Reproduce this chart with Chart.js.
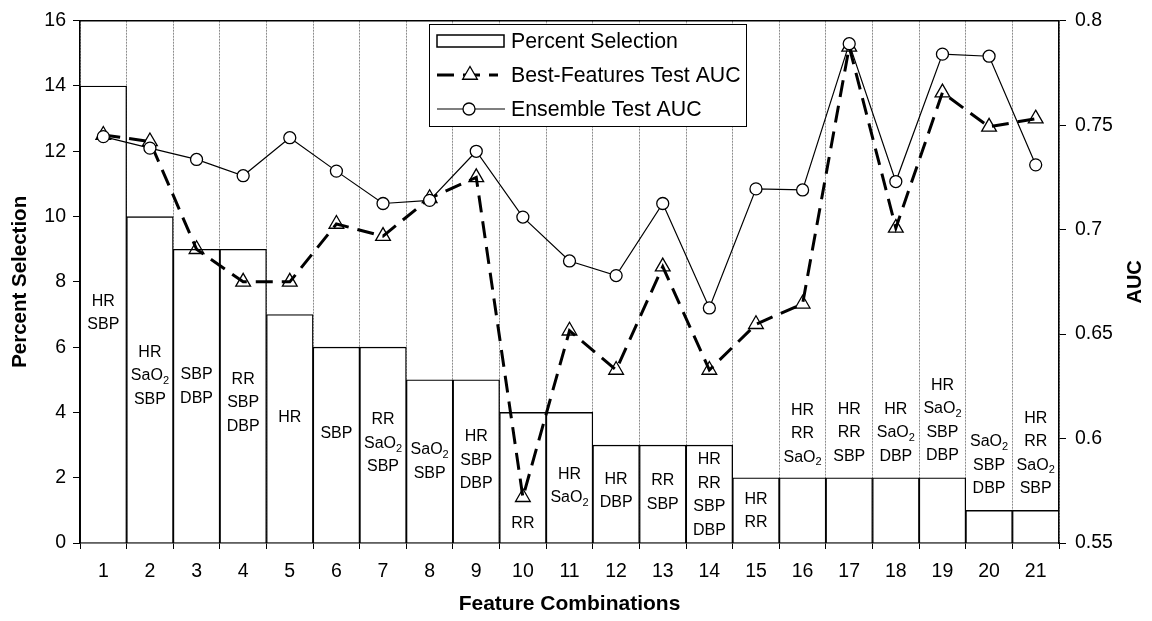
<!DOCTYPE html>
<html>
<head>
<meta charset="utf-8">
<script src="https://cdn.jsdelivr.net/npm/chart.js@4/dist/chart.umd.min.js"></script>
<style>
  html, body { margin: 0; padding: 0; background: #fff; }
  #wrap { width: 1152px; height: 621px; }
</style>
</head>
<body>
<div id="wrap"><canvas id="chart" width="1152" height="621"></canvas></div>
<script>
// 데이터
const categories = ['1', '2', '3', '4', '5', '6', '7', '8', '9', '10', '11', '12', '13', '14', '15', '16', '17', '18', '19', '20', '21'];
const percentSelection = [14, 10, 9, 9, 7, 6, 6, 5, 5, 4, 4, 3, 3, 3, 2, 2, 2, 2, 2, 1, 1];
const bestFeaturesAuc = [0.7453, 0.7422, 0.6906, 0.675, 0.675, 0.7027, 0.6969, 0.715, 0.725, 0.5719, 0.6516,
  0.6328, 0.6823, 0.6328, 0.6547, 0.6645, 0.7875, 0.7008, 0.7656, 0.7492, 0.7531];
const ensembleAuc = [0.7445, 0.739, 0.7336, 0.7258, 0.744, 0.728, 0.7125, 0.714, 0.7375, 0.706, 0.685,
  0.678, 0.7125, 0.6625, 0.7195, 0.719, 0.789, 0.723, 0.784, 0.783, 0.731];
const featureSets = [
  ['HR', 'SBP'], ['HR', 'SaO₂', 'SBP'], ['SBP', 'DBP'], ['RR', 'SBP', 'DBP'], ['HR'], ['SBP'],
  ['RR', 'SaO₂', 'SBP'], ['SaO₂', 'SBP'], ['HR', 'SBP', 'DBP'], ['RR'], ['HR', 'SaO₂'], ['HR', 'DBP'],
  ['RR', 'SBP'], ['HR', 'RR', 'SBP', 'DBP'], ['HR', 'RR'], ['HR', 'RR', 'SaO₂'], ['HR', 'RR', 'SBP'],
  ['HR', 'SaO₂', 'DBP'], ['HR', 'SaO₂', 'SBP', 'DBP'], ['SaO₂', 'SBP', 'DBP'], ['HR', 'RR', 'SaO₂', 'SBP']
];
// 라벨 중심 높이 (Percent Selection 눈금 기준)
const labelLevel = [7.04, 5.12, 4.79, 4.3, 3.84, 3.35, 3.05, 2.5, 2.53, 0.58, 1.74, 1.59, 1.55, 1.46, 0.98,
  3.35, 3.38, 3.38, 3.75, 2.38, 2.74];

const FONT = '"Liberation Sans", Arial, sans-serif';

// 아래첨자 ₂ 를 작은 글씨로 그리기
const drawSubText = (ctx, text, x, y, size) => {
  const parts = text.split('₂');
  ctx.font = `${size}px ${FONT}`;
  const mainW = ctx.measureText(parts[0]).width;
  let subW = 0;
  if (parts.length > 1) {
    ctx.font = `${Math.round(size * 0.68)}px ${FONT}`;
    subW = ctx.measureText('2').width;
  }
  const start = x - (mainW + subW) / 2;
  ctx.textAlign = 'left';
  ctx.textBaseline = 'middle';
  ctx.font = `${size}px ${FONT}`;
  ctx.fillText(parts[0], start, y);
  if (parts.length > 1) {
    ctx.font = `${Math.round(size * 0.68)}px ${FONT}`;
    ctx.fillText('2', start + mainW, y + size * 0.32);
  }
};

const barLabels = {
  id: 'barLabels',
  afterDatasetsDraw(chart) {
    const { ctx, scales } = chart;
    const meta = chart.getDatasetMeta(0);
    ctx.save();
    ctx.fillStyle = '#000';
    meta.data.forEach((bar, i) => {
      const lines = featureSets[i];
      const lh = 23.5;
      const yc = scales.y.getPixelForValue(labelLevel[i]);
      const y0 = yc - (lines.length - 1) * lh / 2;
      lines.forEach((t, j) => drawSubText(ctx, t, bar.x, y0 + j * lh, 16));
    });
    ctx.restore();
  }
};

const frameAndLegend = {
  id: 'frameAndLegend',
  afterDraw(chart) {
    const { ctx, chartArea: a } = chart;
    const ds = chart.data.datasets;
    ctx.save();
    // 상단 테두리
    ctx.strokeStyle = '#000';
    ctx.lineWidth = 1.5;
    ctx.beginPath();
    ctx.moveTo(a.left, a.top);
    ctx.lineTo(a.right, a.top);
    ctx.stroke();

    // 오른쪽 축 제목 (아래에서 위로)
    ctx.save();
    ctx.translate(1135, (a.top + a.bottom) / 2);
    ctx.rotate(-Math.PI / 2);
    ctx.font = `bold 20px ${FONT}`;
    ctx.textAlign = 'center';
    ctx.textBaseline = 'middle';
    ctx.fillStyle = '#000';
    ctx.fillText('AUC', 0, 0);
    ctx.restore();

    // 범례
    const bx = 429.5, by = 24.5, bw = 317, bh = 102;
    ctx.fillStyle = '#fff';
    ctx.fillRect(bx, by, bw, bh);
    ctx.lineWidth = 1;
    ctx.strokeStyle = '#000';
    ctx.strokeRect(bx, by, bw, bh);

    const rows = [41, 75, 109];
    const sx0 = 437, sx1 = 504, tx = 511;

    // 막대
    ctx.lineWidth = 1.5;
    ctx.fillStyle = '#fff';
    ctx.fillRect(sx0, rows[0] - 6, sx1 - sx0, 12);
    ctx.strokeRect(sx0, rows[0] - 6, sx1 - sx0, 12);

    // 점선 + 삼각형
    ctx.lineWidth = ds[1].borderWidth;
    ctx.setLineDash(ds[1].borderDash);
    ctx.beginPath();
    ctx.moveTo(sx0, rows[1]);
    ctx.lineTo(sx1 - 6, rows[1]);
    ctx.stroke();
    ctx.setLineDash([]);
    const r = ds[1].pointRadius;
    const cx = 470;
    ctx.lineWidth = ds[1].pointBorderWidth;
    ctx.fillStyle = '#fff';
    ctx.beginPath();
    ctx.moveTo(cx, rows[1] - r);
    ctx.lineTo(cx + r * 0.866, rows[1] + r * 0.5);
    ctx.lineTo(cx - r * 0.866, rows[1] + r * 0.5);
    ctx.closePath();
    ctx.fill();
    ctx.stroke();

    // 실선 + 원
    ctx.lineWidth = ds[2].borderWidth;
    ctx.beginPath();
    ctx.moveTo(sx0, rows[2]);
    ctx.lineTo(sx1 + 1, rows[2]);
    ctx.stroke();
    ctx.lineWidth = ds[2].pointBorderWidth;
    ctx.beginPath();
    ctx.arc(469, rows[2], ds[2].pointRadius, 0, Math.PI * 2);
    ctx.fill();
    ctx.stroke();

    ctx.fillStyle = '#000';
    ctx.font = `21.3px ${FONT}`;
    ctx.textAlign = 'left';
    ctx.textBaseline = 'middle';
    ds.forEach((d, i) => ctx.fillText(d.label, tx, rows[i] + 1));
    ctx.restore();
  }
};

const tickFont = { family: FONT, size: 19.5 };

new Chart(document.getElementById('chart'), {
  data: {
    labels: categories,
    datasets: [
      {
        type: 'bar',
        label: 'Percent Selection',
        data: percentSelection,
        yAxisID: 'y',
        backgroundColor: '#fff',
        borderColor: '#000',
        borderWidth: { top: 1.4, left: 1.3, right: 1.3, bottom: 0 },
        borderSkipped: 'bottom',
        categoryPercentage: 1,
        barPercentage: 1,
        order: 3
      },
      {
        type: 'line',
        label: 'Best-Features Test AUC',
        data: bestFeaturesAuc,
        yAxisID: 'y2',
        borderColor: '#000',
        borderWidth: 3,
        borderDash: [17, 9],
        tension: 0,
        pointStyle: 'triangle',
        pointRadius: 8.5,
        pointBorderWidth: 1.3,
        pointBorderColor: '#000',
        pointBackgroundColor: 'rgba(255,255,255,0)',
        order: 2
      },
      {
        type: 'line',
        label: 'Ensemble Test AUC',
        data: ensembleAuc,
        yAxisID: 'y2',
        borderColor: '#000',
        borderWidth: 1.2,
        tension: 0,
        pointStyle: 'circle',
        pointRadius: 6,
        pointBorderWidth: 1.3,
        pointBorderColor: '#000',
        pointBackgroundColor: '#fff',
        order: 1
      }
    ]
  },
  options: {
    responsive: false,
    animation: false,
    layout: { padding: { top: 18, left: 0, right: 0, bottom: 0 } },
    plugins: {
      legend: { display: false },
      tooltip: { enabled: false }
    },
    scales: {
      x: {
        offset: true,
        grid: {
          offset: true,
          color: '#8c8c8c',
          lineWidth: 1,
          tickColor: '#000',
          tickLength: 6,
          tickWidth: 1
        },
        border: { color: '#000', width: 1.5, dash: [2, 1] },
        ticks: { color: '#000', font: tickFont, padding: 11, maxRotation: 0 },
        title: {
          display: true,
          text: 'Feature Combinations',
          color: '#000',
          font: { family: FONT, size: 21, weight: 'bold' },
          padding: { top: 0, bottom: 4 }
        },
        afterFit: s => { s.height = 78; }
      },
      y: {
        position: 'left',
        min: 0,
        max: 16,
        ticks: { stepSize: 2, color: '#000', font: tickFont, padding: 7 },
        grid: { drawOnChartArea: false, tickLength: 7, tickColor: '#000' },
        border: { color: '#000', width: 1.5 },
        title: {
          display: true,
          text: 'Percent Selection',
          color: '#000',
          font: { family: FONT, size: 20.5, weight: 'bold' },
          padding: { top: 8, bottom: 0 }
        },
        afterFit: s => { s.width = 80; }
      },
      y2: {
        position: 'right',
        min: 0.55,
        max: 0.8,
        ticks: {
          stepSize: 0.05,
          color: '#000',
          font: tickFont,
          padding: 9,
          callback: v => String(Number(v.toFixed(2)))
        },
        grid: { drawOnChartArea: false, tickLength: 7, tickColor: '#000' },
        border: { color: '#000', width: 1.5 },
        afterFit: s => { s.width = 93; }
      }
    }
  },
  plugins: [barLabels, frameAndLegend]
});
</script>
</body>
</html>
